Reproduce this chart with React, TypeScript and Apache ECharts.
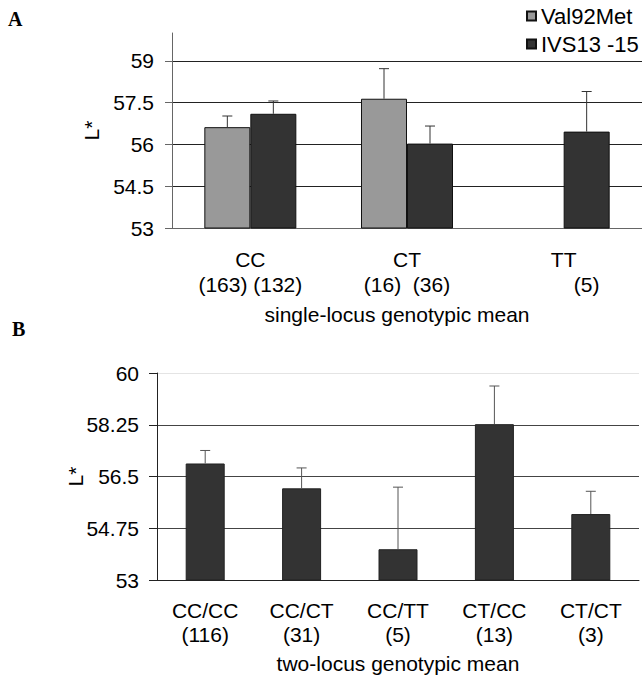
import React, { useEffect, useRef } from 'react';
import * as echarts from 'echarts';

// Panel A: single-locus genotypic means
const categoriesA = ['CC', 'CT', 'TT'];
const countsA = ['(163) (132)', '(16)  (36)', '(5)'];
const val92Met: (number | null)[] = [56.62, 57.64, null];
const val92MetErr: (number | null)[] = [0.4, 1.08, null];
const ivs13 = [57.1, 56.03, 56.46];
const ivs13Err = [0.46, 0.63, 1.44];
const yTicksA = [53, 54.5, 56, 57.5, 59];

// Panel B: two-locus genotypic means
const categoriesB = ['CC/CC', 'CC/CT', 'CC/TT', 'CT/CC', 'CT/CT'];
const countsB = ['(116)', '(31)', '(5)', '(13)', '(3)'];
const twoLocus = [56.94, 56.1, 54.04, 58.27, 55.23];
const twoLocusErr = [0.44, 0.69, 2.1, 1.29, 0.77];

const FONT = 'Liberation Sans, Arial, sans-serif';
const BAR_A = 46;

function errData(means: (number | null)[], errs: (number | null)[]) {
  const out: number[][] = [];
  means.forEach((m, i) => {
    const e = errs[i];
    if (m != null && e != null) out.push([i, m, m + e]);
  });
  return out;
}

function errRender(offset: number, color: string) {
  return (params: any, api: any) => {
    const base = api.coord([api.value(0), api.value(1)]);
    const top = api.coord([api.value(0), api.value(2)]);
    const x = base[0] + offset;
    const style = { stroke: color, lineWidth: 1 };
    return {
      type: 'group',
      children: [
        { type: 'line', shape: { x1: x, y1: base[1], x2: x, y2: top[1] }, style },
        { type: 'line', shape: { x1: x - 5, y1: top[1], x2: x + 5, y2: top[1] }, style },
      ],
    };
  };
}

export default function App() {
  const ref = useRef<HTMLDivElement>(null);
  useEffect(() => {
    if (!ref.current) return;
    const chart = echarts.init(ref.current, undefined, { renderer: 'svg' });
    const txt = { fontFamily: FONT, color: '#000', fontSize: 21 };
    chart.setOption({
      animation: false,
      backgroundColor: '#fff',
      textStyle: { fontFamily: FONT },
      graphic: [
        { type: 'text', left: 8, top: 9, style: { text: 'A', fontSize: 20, fontWeight: 'bold', fontFamily: 'Liberation Serif, serif', fill: '#000' } },
        { type: 'text', left: 12, top: 319, style: { text: 'B', fontSize: 20, fontWeight: 'bold', fontFamily: 'Liberation Serif, serif', fill: '#000' } },
      ],
      legend: {
        data: ['Val92Met', 'IVS13 -15'],
        orient: 'vertical',
        left: 521,
        top: -1,
        itemWidth: 9,
        itemHeight: 9,
        itemGap: 4,
        icon: 'rect',
        textStyle: { ...txt, fontSize: 22, lineHeight: 24 },
      },
      grid: [
        { left: 172, top: 33, width: 474, height: 195 },
        { left: 157, top: 373, width: 482, height: 207 },
      ],
      xAxis: [
        {
          gridIndex: 0,
          type: 'category',
          data: categoriesA,
          axisLine: { lineStyle: { color: '#666' } },
          axisTick: { length: 7, lineStyle: { color: '#666' } },
          axisLabel: {
            interval: 0,
            margin: 19,
            formatter: (v: string, i: number) =>
              `{c|${v}}\n{${val92Met[i] == null ? 's' : 'n'}|${countsA[i]}}`,
            rich: {
              c: { ...txt, lineHeight: 25 },
              n: { ...txt, lineHeight: 25 },
              s: { ...txt, lineHeight: 25, padding: [0, 0, 0, 46] },
            },
          },
          name: 'single-locus genotypic mean',
          nameLocation: 'middle',
          nameGap: 76,
          nameTextStyle: { ...txt, padding: [0, 20, 0, 0] },
        },
        {
          gridIndex: 1,
          type: 'category',
          data: categoriesB,
          axisLine: { lineStyle: { color: '#222' } },
          axisTick: { length: 7, lineStyle: { color: '#222' } },
          axisLabel: {
            interval: 0,
            margin: 18,
            formatter: (v: string, i: number) => `{c|${v}}\n{c|${countsB[i]}}`,
            rich: { c: { ...txt, lineHeight: 24 } },
          },
          name: 'two-locus genotypic mean',
          nameLocation: 'middle',
          nameGap: 73,
          nameTextStyle: { ...txt },
        },
      ],
      yAxis: [
        {
          gridIndex: 0,
          type: 'value',
          min: 53,
          max: 60,
          interval: 1.5,
          axisLine: { show: true, lineStyle: { color: '#666' } },
          axisTick: { show: true, length: 7, customValues: yTicksA, lineStyle: { color: '#666' } },
          axisLabel: { ...txt, margin: 18, customValues: yTicksA },
          splitLine: { show: true, lineStyle: { color: '#222', width: 1 } },
          name: 'L*',
          nameLocation: 'middle',
          nameGap: 70,
          nameMoveOverlap: false,
          nameTextStyle: { ...txt },
        },
        {
          gridIndex: 1,
          type: 'value',
          min: 53,
          max: 60,
          interval: 1.75,
          axisLine: { show: true, lineStyle: { color: '#222' } },
          axisTick: { show: true, length: 8, lineStyle: { color: '#222' } },
          axisLabel: { ...txt, margin: 18 },
          splitLine: {
            show: true,
            lineStyle: { color: ['#444', '#444', '#444', '#444', '#e4e4e4'], width: 1 },
          },
          name: 'L*',
          nameLocation: 'middle',
          nameGap: 71,
          nameMoveOverlap: false,
          nameTextStyle: { ...txt },
        },
      ],
      series: [
        {
          name: 'Val92Met',
          type: 'bar',
          xAxisIndex: 0,
          yAxisIndex: 0,
          data: val92Met,
          barWidth: BAR_A,
          barGap: '0%',
          itemStyle: { color: '#999999', borderColor: '#111', borderWidth: 1 },
        },
        {
          name: 'IVS13 -15',
          type: 'bar',
          xAxisIndex: 0,
          yAxisIndex: 0,
          data: ivs13,
          barWidth: BAR_A,
          barGap: '0%',
          itemStyle: { color: '#333333', borderColor: '#111', borderWidth: 1 },
        },
        {
          type: 'custom',
          xAxisIndex: 0,
          yAxisIndex: 0,
          renderItem: errRender(-BAR_A / 2, '#333'),
          data: errData(val92Met, val92MetErr),
          z: 3,
        },
        {
          type: 'custom',
          xAxisIndex: 0,
          yAxisIndex: 0,
          renderItem: errRender(BAR_A / 2, '#333'),
          data: errData(ivs13, ivs13Err),
          z: 3,
        },
        {
          name: 'two-locus',
          type: 'bar',
          xAxisIndex: 1,
          yAxisIndex: 1,
          data: twoLocus,
          barWidth: 39,
          itemStyle: { color: '#333333', borderColor: '#222', borderWidth: 1 },
        },
        {
          type: 'custom',
          xAxisIndex: 1,
          yAxisIndex: 1,
          renderItem: errRender(0, '#555'),
          data: errData(twoLocus, twoLocusErr),
          z: 3,
        },
      ],
    });
    return () => chart.dispose();
  }, []);
  return (
    <div
      ref={ref}
      style={{ position: 'absolute', left: 0, top: 0, width: 642, height: 679 }}
    />
  );
}
